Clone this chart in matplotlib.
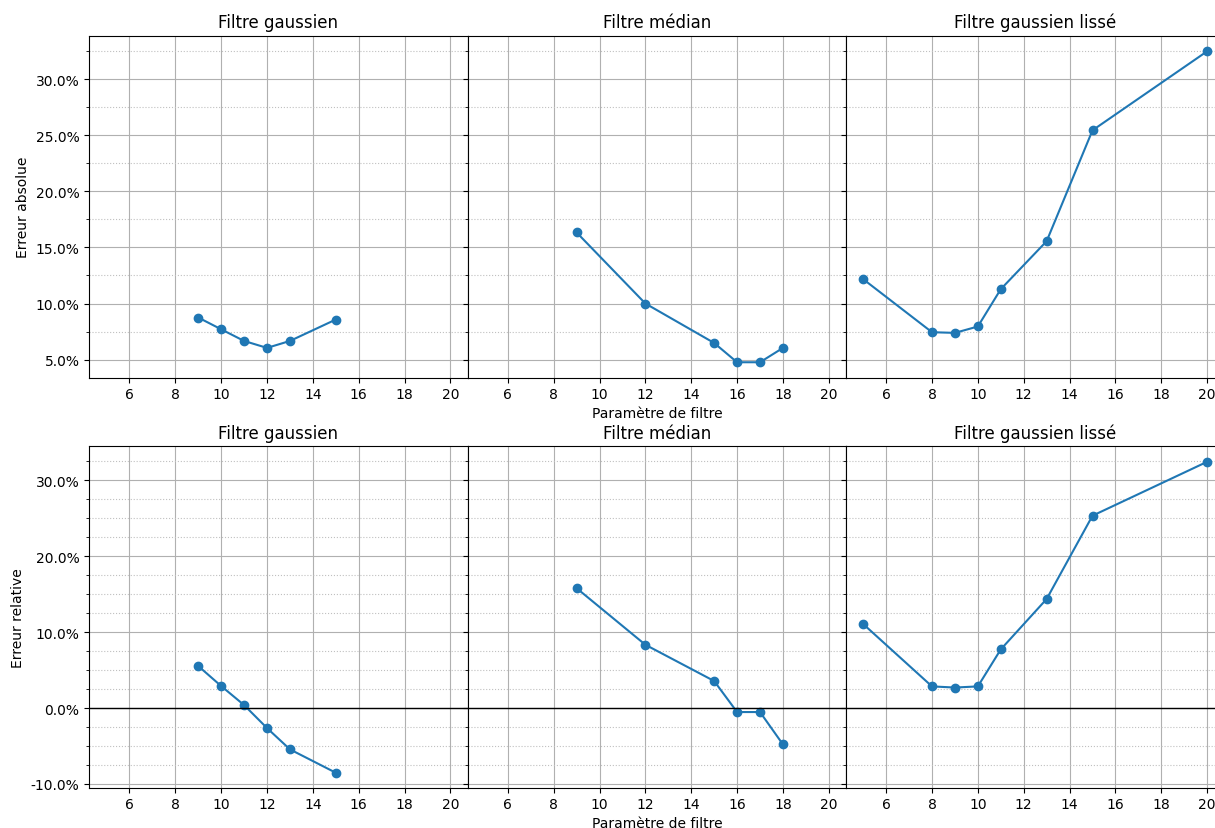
import matplotlib
matplotlib.use("Agg")
import matplotlib.pyplot as plt
from matplotlib.ticker import PercentFormatter, MultipleLocator

plt.rcParams["axes.unicode_minus"] = False

titles = ["Filtre gaussien", "Filtre médian", "Filtre gaussien lissé"]

gauss_x = [9, 10, 11, 12, 13, 15]
median_x = [9, 12, 15, 16, 17, 18]
smooth_x = [5, 8, 9, 10, 11, 13, 15, 20]

gauss_abs = [8.75, 7.70, 6.66, 6.04, 6.66, 8.57]
median_abs = [16.34, 10.00, 6.48, 4.76, 4.76, 6.04]
smooth_abs = [12.17, 7.44, 7.38, 7.95, 11.28, 15.56, 25.45, 32.50]

gauss_rel = [5.54, 2.90, 0.39, -2.64, -5.45, -8.53]
median_rel = [15.80, 8.34, 3.56, -0.53, -0.53, -4.80]
smooth_rel = [11.07, 2.85, 2.70, 2.85, 7.73, 14.37, 25.35, 32.46]

xs = [gauss_x, median_x, smooth_x]
abs_vals = [gauss_abs, median_abs, smooth_abs]
rel_vals = [gauss_rel, median_rel, smooth_rel]

fig = plt.figure(figsize=(12.15, 8.29), dpi=100)
left = 0.0735
w = 0.3114
gs = fig.add_gridspec(2, 3, left=left, right=left + 3 * w, bottom=0.0479,
                      top=0.9557, wspace=0, hspace=0.2)

axes = [[None] * 3 for _ in range(2)]
for r in range(2):
    for c in range(3):
        kw = {}
        if c > 0:
            kw["sharey"] = axes[r][0]
        if not (r == 0 and c == 0):
            kw["sharex"] = axes[0][0]
        axes[r][c] = fig.add_subplot(gs[r, c], **kw)

for r, vals in enumerate([abs_vals, rel_vals]):
    for c in range(3):
        ax = axes[r][c]
        ax.plot(xs[c], vals[c], marker="o", color="#1f77b4")
        if r == 1:
            ax.axhline(0, color="black", linewidth=1)
        ax.set_title(titles[c], fontsize=12)
        ax.yaxis.set_major_formatter(PercentFormatter(xmax=100, decimals=1))
        ax.yaxis.set_major_locator(MultipleLocator(5 if r == 0 else 10))
        ax.yaxis.set_minor_locator(MultipleLocator(2.5))
        ax.xaxis.set_major_locator(MultipleLocator(2))
        ax.grid(True, which="major", color="#b0b0b0", linewidth=0.8)
        ax.grid(True, which="minor", axis="y", color="#c0c0c0",
                linestyle=":", linewidth=0.8)
        ax.set_axisbelow(True)
        if c > 0:
            ax.tick_params(axis="y", which="both", labelleft=False)
        ax.tick_params(axis="x", labelbottom=True, pad=3)
        if c == 1:
            ax.set_xlabel("Paramètre de filtre", labelpad=3.5)

axes[0][0].set_ylabel("Erreur absolue")
axes[1][0].set_ylabel("Erreur relative")

fig.savefig("out.png", dpi=100)
